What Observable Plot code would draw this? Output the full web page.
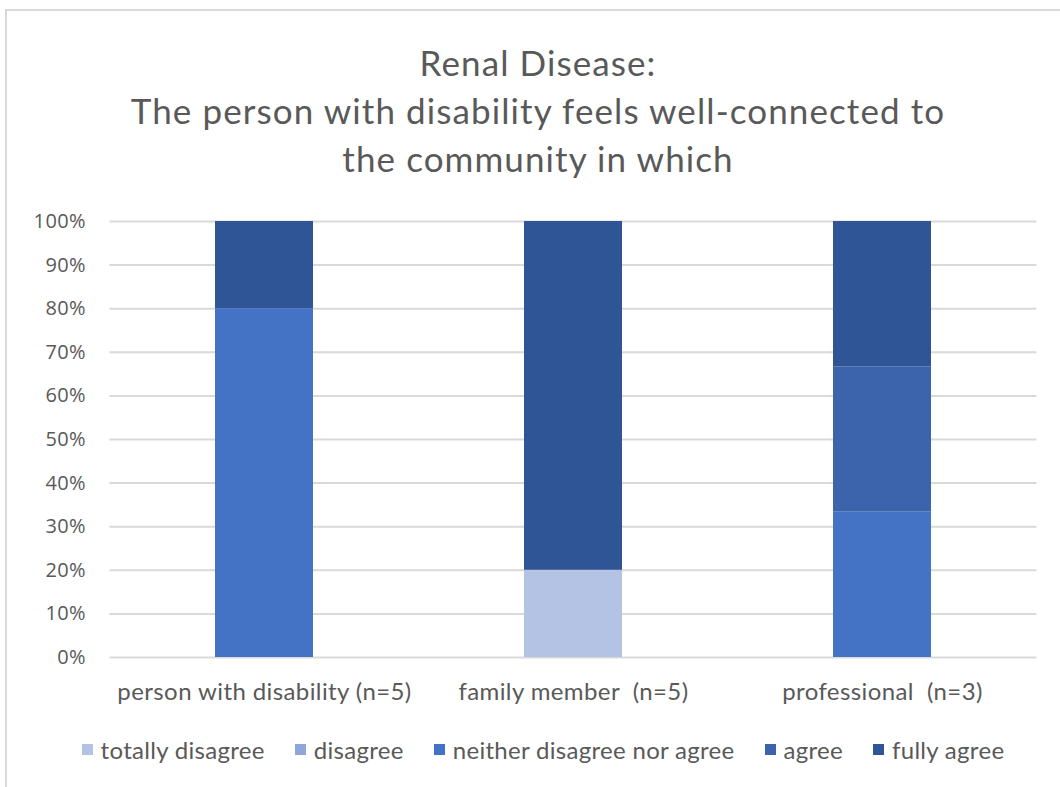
<!DOCTYPE html>
<html>
<head>
<meta charset="utf-8">
<script src="https://cdn.jsdelivr.net/npm/d3@7"></script>
<script src="https://cdn.jsdelivr.net/npm/@observablehq/plot@0.6"></script>
<style>
  html, body { margin: 0; padding: 0; background: #fff; }
  body { width: 1060px; height: 787px; position: relative; overflow: hidden; font-family: Lato, "Open Sans", sans-serif; color: #595959; }
  #frame { position: absolute; left: 5px; top: 9px; width: 1100px; height: 800px; border-left: 2px solid #d9d9d9; border-top: 2px solid #d9d9d9; box-sizing: border-box; }
  #title { position: absolute; left: 0; width: 1076px; top: 38px; text-align: center; font-size: 35px; letter-spacing: 1.1px; line-height: 48px; color: #595959; }
  #chart { position: absolute; left: 0; top: 200px; }
  #legend { position: absolute; left: 0; width: 1086px; top: 735px; display: flex; justify-content: center; align-items: center; font-size: 24px; letter-spacing: 0.3px; color: #595959; }
  .item { display: flex; align-items: center; margin: 0 15px; }
  .sw { width: 11px; height: 11px; margin-right: 8px; }
</style>
</head>
<body>
<div id="frame"></div>
<div id="title"></div>
<div id="chart"></div>
<div id="legend"></div>
<script>
// Title lines
const titleLines = [
  "Renal Disease:",
  "The person with disability feels well-connected to",
  "the community in which"
];

// Respondent groups (x categories)
const groups = [
  "person with disability (n=5)",
  "family member\u00a0 (n=5)",
  "professional\u00a0 (n=3)"
];
const groupSizes = [5, 5, 3];

// Response categories, bottom to top of each stack
const responses = ["totally disagree", "disagree", "neither disagree nor agree", "agree", "fully agree"];
const responseColors = ["#b4c2e3", "#8ea6d9", "#4472c4", "#3b64ad", "#2f5597"];

// Number of answers per response, one array per group
const countsPerson = [0, 0, 4, 0, 1];
const countsFamily = [1, 0, 0, 0, 4];
const countsProfessional = [0, 0, 1, 1, 1];

// Y-axis ticks
const yTicks = [0, 0.1, 0.2, 0.3, 0.4, 0.5, 0.6, 0.7, 0.8, 0.9, 1];

const countTable = [countsPerson, countsFamily, countsProfessional];
const rows = [];
groups.forEach((g, gi) => {
  responses.forEach((r, ri) => {
    rows.push({group: g, response: r, share: countTable[gi][ri] / groupSizes[gi]});
  });
});

document.getElementById("title").innerHTML = titleLines.map(t => `<div>${t}</div>`).join("");

const chart = Plot.plot({
  width: 1060,
  height: 520,
  marginTop: 21,
  marginBottom: 63,
  marginLeft: 109.5,
  marginRight: 23.5,
  style: {fontFamily: "Lato, sans-serif", color: "#595959", background: "transparent", letterSpacing: "0.4px"},
  x: {domain: groups, paddingInner: 0.684, paddingOuter: 0.342, label: null},
  y: {domain: [0, 1], label: null},
  color: {domain: responses, range: responseColors},
  marks: [
    Plot.gridY(yTicks, {stroke: "#d9d9d9", strokeOpacity: 1, strokeWidth: 2}),
    Plot.barY(rows, Plot.stackY({
      x: "group", y: "share", fill: "response", order: responses
    })),
    Plot.axisY(yTicks, {
      tickFormat: d3.format(".0%"), tickSize: 0, tickPadding: 24,
      fontSize: 20, fontFamily: "Open Sans, sans-serif", fill: "#595959", label: null
    }),
    Plot.axisX({tickSize: 0, tickPadding: 25, fontSize: 24, fill: "#595959", label: null})
  ]
});
document.getElementById("chart").appendChild(chart);

const legend = document.getElementById("legend");
responses.forEach((r, i) => {
  const item = document.createElement("div");
  item.className = "item";
  item.innerHTML = `<div class="sw" style="background:${responseColors[i]}"></div><span>${r}</span>`;
  legend.appendChild(item);
});
</script>
</body>
</html>
